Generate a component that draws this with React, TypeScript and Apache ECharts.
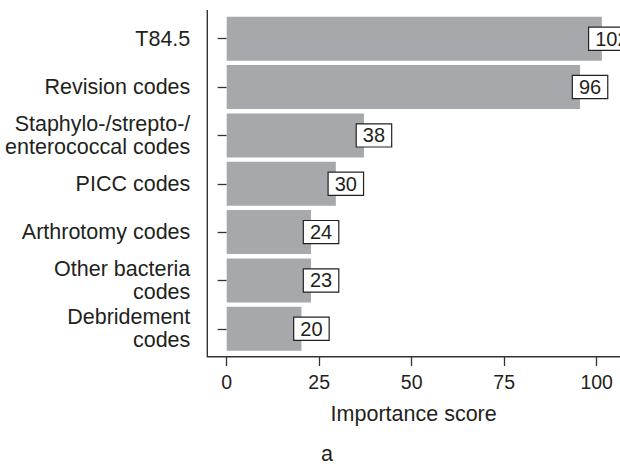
import React, { useEffect, useRef } from "react";
import * as echarts from "echarts";

const categories = [
  "T84.5",
  "Revision codes",
  "Staphylo-/strepto-/\nenterococcal codes",
  "PICC codes",
  "Arthrotomy codes",
  "Other bacteria\ncodes",
  "Debridement\ncodes",
];
// bar lengths as drawn
const barValues = [101.4, 95.5, 37.1, 29.5, 22.8, 22.8, 20.2];
// numbers printed in the boxes
const labelValues = [102, 96, 38, 30, 24, 23, 20];
const xTicks = [0, 25, 50, 75, 100];

const FONT = "'Liberation Sans', Arial, Helvetica, sans-serif";
const INK = "#231f20";

export default function App() {
  const ref = useRef<HTMLDivElement>(null);
  useEffect(() => {
    if (!ref.current) return;
    const chart = echarts.init(ref.current, null, { renderer: "svg" });
    chart.setOption({
      animation: false,
      textStyle: { fontFamily: FONT },
      grid: { left: 207.3, right: 0, top: 14.5, bottom: 113, containLabel: false },
      xAxis: {
        type: "value",
        min: -5.24,
        max: 106.3,
        offset: 4,
        axisLine: { show: false },
        splitLine: { show: false },
        axisTick: {
          show: true,
          length: 9,
          customValues: xTicks,
          lineStyle: { color: "#333", width: 1.3 },
        },
        axisLabel: {
          customValues: xTicks,
          margin: 15,
          fontSize: 19.5,
          color: INK,
          fontFamily: FONT,
        },
        name: "Importance score",
        nameLocation: "middle",
        nameGap: 46,
        nameTextStyle: { fontSize: 21.5, color: INK, fontFamily: FONT },
      },
      yAxis: {
        type: "category",
        data: categories,
        inverse: true,
        axisLine: { show: false },
        axisTick: {
          show: true,
          length: 9,
          alignWithLabel: true,
          lineStyle: { color: "#333", width: 1.3 },
        },
        axisLabel: {
          margin: 17,
          fontSize: 21.5,
          lineHeight: 23,
          color: INK,
          align: "right",
          fontFamily: FONT,
        },
        splitLine: { show: false },
      },
      series: [
        {
          type: "bar",
          data: barValues,
          barWidth: 44,
          itemStyle: { color: "#a7a8ab" },
          label: {
            show: true,
            position: ["100%", "50%"],
            align: "center",
            verticalAlign: "middle",
            offset: [10, 0],
            formatter: (p: any) => String(labelValues[p.dataIndex]),
            fontSize: 20,
            lineHeight: 21,
            color: INK,
            fontFamily: FONT,
            backgroundColor: "#fff",
            borderColor: "#222",
            borderWidth: 1.2,
            padding: [1, 6, 0, 6],
          },
        },
      ],
      graphic: [
        {
          type: "polyline",
          shape: { points: [[207.3, 10], [207.3, 356.7], [620, 356.7]] },
          style: { stroke: "#333", lineWidth: 1.4, fill: null },
          silent: true,
        },
        {
          type: "text",
          x: 327,
          y: 465,
          style: {
            text: "a",
            fontSize: 21.5,
            fontFamily: FONT,
            fill: INK,
            textAlign: "center",
            textVerticalAlign: "bottom",
          },
        },
      ],
    });
    return () => chart.dispose();
  }, []);
  return (
    <div
      ref={ref}
      style={{ position: "fixed", left: 0, top: 0, width: 620, height: 466, background: "#fff" }}
    />
  );
}
